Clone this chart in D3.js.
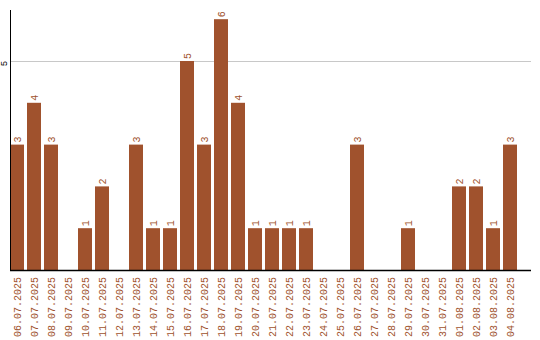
<!DOCTYPE html>
<html>
<head>
<meta charset="utf-8">
<script src="https://cdn.jsdelivr.net/npm/d3@7"></script>
<style>
 body { margin: 0; background: #fff; }
 svg { display: block; }
</style>
</head>
<body>
<div id="chart"></div>
<script>
var w = 540, h = 340;

// data
var dates = ["06.07.2025","07.07.2025","08.07.2025","09.07.2025","10.07.2025","11.07.2025",
 "12.07.2025","13.07.2025","14.07.2025","15.07.2025","16.07.2025","17.07.2025","18.07.2025",
 "19.07.2025","20.07.2025","21.07.2025","22.07.2025","23.07.2025","24.07.2025","25.07.2025",
 "26.07.2025","27.07.2025","28.07.2025","29.07.2025","30.07.2025","31.07.2025","01.08.2025",
 "02.08.2025","03.08.2025","04.08.2025"];
var counts = [3,4,3,0,1,2,0,3,1,1,5,3,6,4,1,1,1,1,0,0,3,0,0,1,0,0,2,2,1,3];
var yTicks = [5];

var svg = d3.select("#chart").append("svg")
 .attr("width", w)
 .attr("height", h);

var mLeft = 10, mRight = 531, mTop = 10, mBottom = 270;
var barColor = "#a0522d";
var font = "'Liberation Mono', 'DejaVu Sans Mono', monospace";

var xScale = d3.scaleBand().domain(dates).range([mLeft, 517]).paddingInner(3 / 17).paddingOuter(0);
var yScale = d3.scaleLinear().domain([0, 6.22]).range([mBottom, mTop]);

// gridline + y label
svg.selectAll("line.grid")
 .data(yTicks)
 .enter().append("line")
 .attr("class", "grid")
 .attr("x1", mLeft).attr("x2", mRight)
 .attr("y1", function(d) { return Math.round(yScale(d)) + 0.5; })
 .attr("y2", function(d) { return Math.round(yScale(d)) + 0.5; })
 .attr("stroke", "#c8c8c8");

svg.selectAll("text.ylab")
 .data(yTicks)
 .enter().append("text")
 .attr("class", "ylab")
 .attr("transform", function(d) { return "translate(7," + (yScale(d) + 2.5) + ") rotate(-90)"; })
 .attr("text-anchor", "middle")
 .style("font-family", font)
 .style("font-size", "9px")
 .text(function(d) { return d; });

// bars
svg.selectAll("rect")
 .data(counts)
 .enter().append("rect")
 .attr("x", function(d, i) { return xScale(dates[i]); })
 .attr("y", function(d) { return yScale(d); })
 .attr("width", xScale.bandwidth())
 .attr("height", function(d) { return mBottom - yScale(d); })
 .attr("fill", barColor);

// value labels (only non-zero days)
counts.forEach(function(d, i) {
 if (d <= 0) return;
 svg.append("text")
  .attr("class", "val")
  .attr("transform", "translate(" + (xScale(dates[i]) + xScale.bandwidth() / 2 + 3.5) + "," + (yScale(d) - 2) + ") rotate(-90)")
  .attr("fill", barColor)
  .style("font-family", font)
  .style("font-size", "10px")
  .text(d);
});

// axes lines
svg.append("line")
 .attr("x1", mLeft + 0.5).attr("x2", mLeft + 0.5)
 .attr("y1", mTop).attr("y2", mBottom)
 .attr("stroke", "#000");
svg.append("line")
 .attr("x1", mLeft).attr("x2", mRight)
 .attr("y1", mBottom + 0.5).attr("y2", mBottom + 0.5)
 .attr("stroke", "#000").attr("stroke-width", 1.5);

// x tick labels
svg.selectAll("text.xlab")
 .data(dates)
 .enter().append("text")
 .attr("class", "xlab")
 .attr("transform", function(d) {
   return "translate(" + (xScale(d) + xScale.bandwidth() / 2 + 3.5) + "," + 277 + ") rotate(-90)";
 })
 .attr("text-anchor", "end")
 .attr("fill", barColor)
 .style("font-family", font)
 .style("font-size", "10px")
 .text(function(d) { return d; });
</script>
</body>
</html>
